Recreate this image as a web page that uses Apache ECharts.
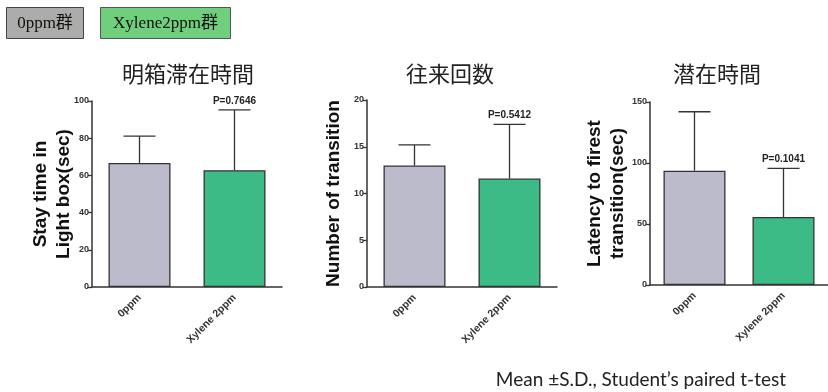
<!DOCTYPE html>
<html>
<head>
<meta charset="utf-8">
<script src="https://cdn.jsdelivr.net/npm/echarts@6/dist/echarts.min.js"></script>
<style>
  html, body { margin: 0; padding: 0; background: #fff; }
  #chart { width: 828px; height: 392px; }
</style>
</head>
<body>
<div id="chart"></div>
<script>
// Groups compared in every panel
const groups = ['0ppm', 'Xylene 2ppm'];

// Stay time in the light box (sec): mean and S.D.
const stayMean = [66.7, 62.8];
const staySD = [14.4, 32.4];

// Number of transitions: mean and S.D.
const transMean = [13.0, 11.6];
const transSD = [2.2, 5.8];

// Latency to first transition (sec): mean and S.D.
const latencyMean = [93.7, 55.7];
const latencySD = [48.3, 39.9];

// P values printed above the exposed group
const stayP = ['', 'P=0.7646'];
const transP = ['', 'P=0.5412'];
const latencyP = ['', 'P=0.1041'];

// Axis ranges
const stayAxis = { max: 100, interval: 20 };
const transAxis = { max: 20, interval: 5 };
const latencyAxis = { max: 150, interval: 50 };

const panelTitles = ['明箱滞在時間', '往来回数', '潜在時間'];
const legendNames = ['0ppm群', 'Xylene2ppm群'];
const footnote = 'Mean ±S.D., Student’s paired t-test';

const barColors = ['#bcbbcc', '#3dbb87'];
const axisColor = '#333';
const sansFont = '"Liberation Sans", Arial, sans-serif';
const legendFont = '17px "Liberation Serif", "Noto Sans CJK JP", serif';

const panels = [
  { mean: stayMean, sd: staySD, p: stayP, axis: stayAxis, name: 'Stay time in\nLight box(sec)', nameGap: 17,
    grid: { left: 92, top: 101, width: 190, height: 186 }, title: panelTitles[0], cx: 183 },
  { mean: transMean, sd: transSD, p: transP, axis: transAxis, name: 'Number of transition', nameGap: 22,
    grid: { left: 367, top: 100, width: 190, height: 187 }, title: panelTitles[1], cx: 445 },
  { mean: latencyMean, sd: latencySD, p: latencyP, axis: latencyAxis, name: 'Latency to firest\ntransition(sec)', nameGap: 21,
    grid: { left: 650, top: 102, width: 182, height: 183 }, title: panelTitles[2], cx: 712 }
];

// Upper error bar with cap, plus optional P value above it
function errorBarRenderer(pLabels) {
  return function (params, api) {
    const i = params.dataIndex;
    const m = api.value(1);
    const s = api.value(2);
    const base = api.coord([i, m]);
    const top = api.coord([i, m + s]);
    const half = 16;
    const stroke = { stroke: axisColor, lineWidth: 1.3 };
    const children = [
      { type: 'line', shape: { x1: base[0], y1: base[1], x2: top[0], y2: top[1] }, style: stroke },
      { type: 'line', shape: { x1: top[0] - half, y1: top[1], x2: top[0] + half, y2: top[1] }, style: stroke }
    ];
    if (pLabels[i]) {
      children.push({
        type: 'text', x: top[0], y: top[1] - 9,
        style: { text: pLabels[i], align: 'center', verticalAlign: 'middle',
                 font: 'bold 10px ' + sansFont, fill: '#222' }
      });
    }
    return { type: 'group', children: children };
  };
}

const option = {
  animation: false,
  backgroundColor: '#fff',
  title: panels.map(p => ({
    text: p.title, left: p.cx, top: 58, textAlign: 'center',
    textStyle: { fontFamily: '"Noto Sans CJK JP", sans-serif', fontSize: 22, fontWeight: 'normal', color: '#222' }
  })),
  grid: panels.map(p => p.grid),
  xAxis: panels.map((p, k) => ({
    type: 'category', gridIndex: k, data: groups,
    axisLine: { lineStyle: { color: axisColor, width: 1.5 } },
    axisTick: { alignWithLabel: true, length: 4, lineStyle: { color: axisColor, width: 1.3 } },
    axisLabel: { rotate: 45, margin: 9, fontSize: 10.5, fontWeight: 'bold', color: '#333', fontFamily: sansFont }
  })),
  yAxis: panels.map((p, k) => ({
    type: 'value', gridIndex: k, min: 0, max: p.axis.max, interval: p.axis.interval,
    name: p.name, nameLocation: 'middle', nameRotate: 90, nameGap: p.nameGap, nameMoveOverlap: false,
    nameTextStyle: { fontFamily: sansFont, fontSize: 19, fontWeight: 'bold', color: '#111', lineHeight: 23 },
    splitLine: { show: false },
    axisLine: { show: true, lineStyle: { color: axisColor, width: 1.5 } },
    axisTick: { show: true, length: 4, lineStyle: { color: axisColor, width: 1.3 } },
    axisLabel: { fontSize: 9, fontWeight: 'bold', color: '#333', margin: 3, fontFamily: sansFont }
  })),
  series: panels.flatMap((p, k) => [
    {
      type: 'bar', xAxisIndex: k, yAxisIndex: k, barWidth: 62,
      data: p.mean.map((v, i) => ({
        value: v,
        itemStyle: { color: barColors[i], borderColor: axisColor, borderWidth: 1.3 }
      }))
    },
    {
      type: 'custom', xAxisIndex: k, yAxisIndex: k, z: 5,
      renderItem: errorBarRenderer(p.p),
      data: p.mean.map((v, i) => [i, v, p.sd[i]])
    }
  ]),
  graphic: [
    {
      type: 'group', left: 6, top: 7,
      children: [
        { type: 'rect', shape: { x: 0, y: 0, width: 77, height: 31 },
          style: { fill: '#acadab', stroke: '#444', lineWidth: 1 } },
        { type: 'text', x: 38.5, y: 16,
          style: { text: legendNames[0], align: 'center', verticalAlign: 'middle', font: legendFont, fill: '#111' } }
      ]
    },
    {
      type: 'group', left: 100, top: 7,
      children: [
        { type: 'rect', shape: { x: 0, y: 0, width: 130, height: 31 },
          style: { fill: '#6fcf7d', stroke: '#555', lineWidth: 1 } },
        { type: 'text', x: 65, y: 16,
          style: { text: legendNames[1], align: 'center', verticalAlign: 'middle', font: legendFont, fill: '#111' } }
      ]
    },
    {
      type: 'text', x: 786, y: 380,
      style: { text: footnote, align: 'right', verticalAlign: 'middle',
               font: '19px Lato, "Open Sans", sans-serif', fill: '#222' }
    }
  ]
};

echarts.init(document.getElementById('chart'), null, { renderer: 'canvas' }).setOption(option);
</script>
</body>
</html>
